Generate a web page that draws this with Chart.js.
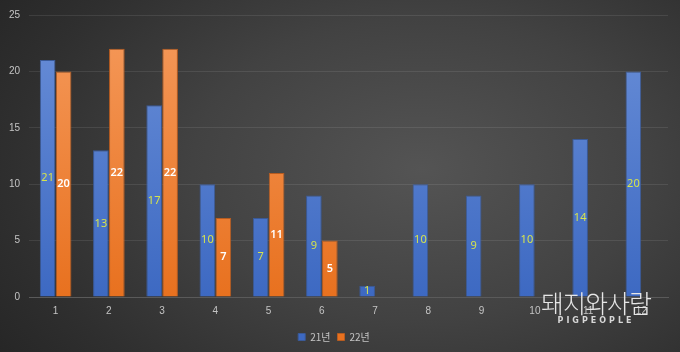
<!DOCTYPE html>
<html>
<head>
<meta charset="utf-8">
<script src="https://cdn.jsdelivr.net/npm/chart.js@4"></script>
<style>
    html, body { margin: 0; padding: 0; }
    body {
        width: 680px; height: 352px; overflow: hidden; position: relative;
        background: radial-gradient(ellipse 75% 95% at 62% 48%, #545454 0%, #424242 45%, #2f2f2f 80%, #262626 100%);
        font-family: "Noto Sans", sans-serif;
    }
    #wrap { position: absolute; left: 0; top: 0; width: 680px; height: 352px; }
    .mark { position: absolute; left: 526px; top: 288px; width: 140px; text-align: center; color: #e6e6e6; pointer-events: none; }
    .mark .ko { font-family: "Noto Sans CJK KR", sans-serif; font-size: 25px; font-weight: 300; letter-spacing: -1px; line-height: 28px; }
    .mark .en { font-family: "DejaVu Sans", sans-serif; font-size: 8px; font-weight: bold; letter-spacing: 3px; line-height: 10px; color: #d8d8d8; }
</style>
</head>
<body>
<div id="wrap"><canvas id="barChart" width="680" height="352"></canvas></div>
<div class="mark"><div class="ko">돼지와사람</div><div class="en">PIGPEOPLE</div></div>
<script>
// Chart data
const months = ['1', '2', '3', '4', '5', '6', '7', '8', '9', '10', '11', '12'];
const values21 = [21, 13, 17, 10, 7, 9, 1, 10, 9, 10, 14, 20];
const values22 = [20, 22, 22, 7, 11, 5, null, null, null, null, null, null];
const seriesNames = ['21년', '22년'];
const yTicks = [0, 5, 10, 15, 20, 25];

// Vertical gradient for bar fills
function barGradient(top, bottom) {
    return (context) => {
        const area = context.chart.chartArea;
        if (!area) return bottom;
        const g = context.chart.ctx.createLinearGradient(0, area.top, 0, area.bottom);
        g.addColorStop(0, top);
        g.addColorStop(1, bottom);
        return g;
    };
}

// Draw value labels in the middle of each bar
const barValueLabels = {
    id: 'barValueLabels',
    afterDatasetsDraw(chart) {
        const ctx = chart.ctx;
        chart.data.datasets.forEach((ds, i) => {
            const meta = chart.getDatasetMeta(i);
            meta.data.forEach((bar, j) => {
                const v = ds.data[j];
                if (v === null || v === undefined) return;
                ctx.save();
                ctx.font = (i === 1 ? '600 ' : '') + '11px "Noto Sans", sans-serif';
                ctx.fillStyle = i === 0 ? '#d6e34c' : '#ffffff';
                ctx.textAlign = 'center';
                ctx.textBaseline = 'middle';
                ctx.fillText(String(v), bar.x, (bar.y + bar.base) / 2);
                ctx.restore();
            });
        });
    }
};

const ctx = document.getElementById('barChart');
new Chart(ctx.getContext('2d'), {
    type: 'bar',
    data: {
        labels: months,
        datasets: [{
            label: seriesNames[0],
            data: values21,
            backgroundColor: barGradient('#6a8fd8', '#3d69c2'),
            borderColor: '#3a5a98',
            borderWidth: 1,
            categoryPercentage: 0.6,
            barPercentage: 0.98
        }, {
            label: seriesNames[1],
            data: values22,
            backgroundColor: barGradient('#f59a5c', '#e8711f'),
            borderColor: '#b75c20',
            borderWidth: 1,
            categoryPercentage: 0.6,
            barPercentage: 0.98
        }]
    },
    options: {
        responsive: false,
        animation: false,
        layout: { padding: { top: 4, right: 12, left: 0, bottom: 0 } },
        plugins: {
            legend: {
                position: 'bottom',
                labels: {
                    color: '#c4c4c4',
                    font: { size: 10, family: '"Noto Sans CJK KR", sans-serif' },
                    boxWidth: 7,
                    boxHeight: 7,
                    padding: 7
                }
            },
            tooltip: { enabled: false }
        },
        scales: {
            x: {
                grid: { display: false, drawTicks: false },
                border: { color: '#5a5a5a' },
                ticks: { color: '#c4c4c4', font: { size: 10 }, padding: 8 }
            },
            y: {
                min: 0,
                max: 25,
                afterBuildTicks: (scale) => { scale.ticks = yTicks.map(v => ({ value: v })); },
                afterFit: (scale) => { scale.width = 29; },
                grid: { color: 'rgba(255,255,255,0.09)', drawTicks: false },
                border: { display: false },
                ticks: { color: '#c4c4c4', font: { size: 10 }, padding: 9 }
            }
        }
    },
    plugins: [barValueLabels]
});
</script>
</body>
</html>
